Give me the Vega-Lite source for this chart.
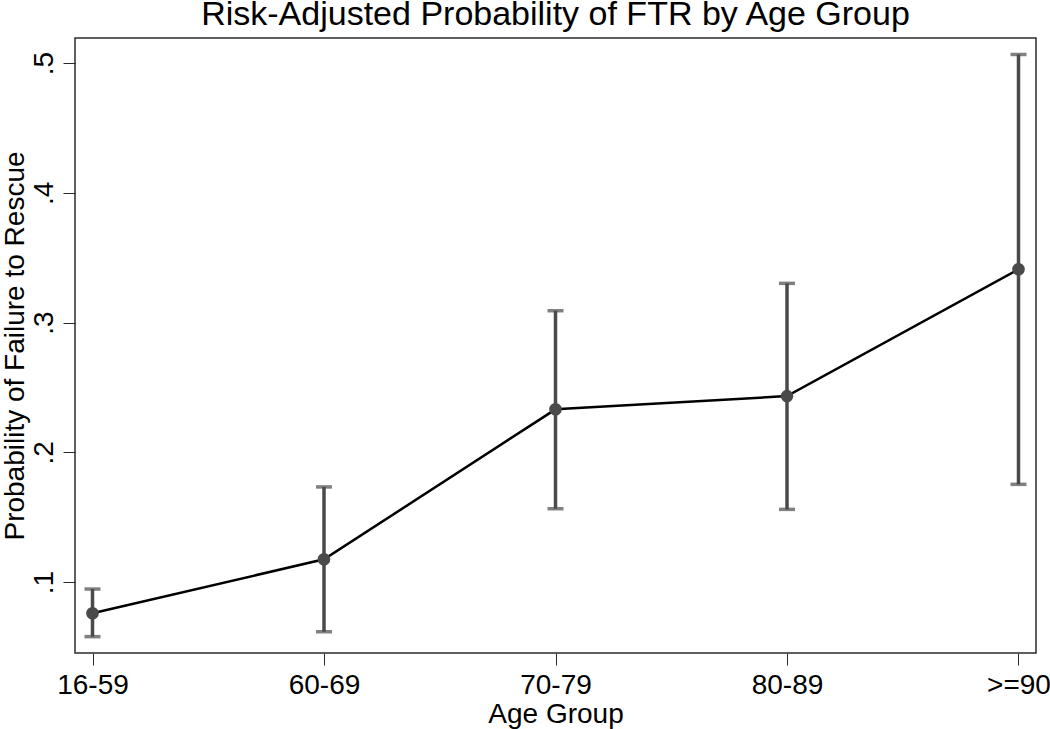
{
  "$schema": "https://vega.github.io/schema/vega-lite/v6.json",
  "width": 961,
  "height": 615,
  "autosize": {"type": "none"},
  "padding": {"left": 75, "top": 38, "right": 14, "bottom": 76},
  "background": "white",
  "title": {
    "text": "Risk-Adjusted Probability of FTR by Age Group",
    "font": "Liberation Sans",
    "fontSize": 34,
    "fontWeight": "normal",
    "color": "black",
    "anchor": "middle",
    "frame": "group",
    "baseline": "alphabetic",
    "offset": 12,
    "dy": 33
  },
  "config": {
    "view": {"stroke": "#2b2b2b", "strokeWidth": 1.5},
    "axis": {
      "labelFont": "Liberation Sans",
      "titleFont": "Liberation Sans",
      "labelFontSize": 28,
      "titleFontSize": 28,
      "labelColor": "black",
      "titleColor": "black",
      "titleFontWeight": "normal",
      "tickColor": "#2b2b2b",
      "tickSize": 12,
      "tickWidth": 1,
      "domain": false,
      "grid": false
    }
  },
  "data": {
    "values": [
      {"age": "16-59", "p": 0.0759, "lo": 0.0579, "hi": 0.0946},
      {"age": "60-69", "p": 0.1175, "lo": 0.0617, "hi": 0.1733},
      {"age": "70-79", "p": 0.2331, "lo": 0.1565, "hi": 0.3091},
      {"age": "80-89", "p": 0.2433, "lo": 0.156, "hi": 0.3302},
      {"age": ">=90", "p": 0.341, "lo": 0.1753, "hi": 0.5066}
    ]
  },
  "encoding": {
    "x": {
      "field": "age",
      "type": "ordinal",
      "sort": null,
      "scale": {"type": "point", "padding": 0.0756},
      "axis": {
        "title": "Age Group",
        "labelAngle": 0,
        "labelPadding": 6,
        "titleY": 69,
        "titleBaseline": "alphabetic",
        "titlePadding": 0
      }
    }
  },
  "layer": [
    {
      "mark": {"type": "rule", "color": "#4a4a4a", "strokeWidth": 3.5},
      "encoding": {
        "y": {
          "field": "lo",
          "type": "quantitative",
          "scale": {"domain": [0.0453, 0.5193], "nice": false, "zero": false},
          "axis": {
            "title": "Probability of Failure to Rescue",
            "values": [0.1, 0.2, 0.3, 0.4, 0.5],
            "labelExpr": "substring(format(datum.value, '.1f'), 1)",
            "labelAngle": -90,
            "labelAlign": "center",
            "labelBaseline": "alphabetic",
            "labelPadding": 11,
            "titleAngle": -90,
            "titleX": -52,
            "titleY": 307.5,
            "titleAlign": "center",
            "titleBaseline": "alphabetic"
          }
        },
        "y2": {"field": "hi"}
      }
    },
    {
      "mark": {"type": "tick", "color": "#4a4a4a", "thickness": 3.5, "size": 16, "orient": "horizontal"},
      "encoding": {"y": {"field": "lo", "type": "quantitative"}}
    },
    {
      "mark": {"type": "tick", "color": "#4a4a4a", "thickness": 3.5, "size": 16, "orient": "horizontal"},
      "encoding": {"y": {"field": "hi", "type": "quantitative"}}
    },
    {
      "mark": {"type": "line", "color": "black", "strokeWidth": 2.5},
      "encoding": {"y": {"field": "p", "type": "quantitative"}}
    },
    {
      "mark": {"type": "circle", "color": "#4a4a4a", "opacity": 1, "size": 160},
      "encoding": {"y": {"field": "p", "type": "quantitative"}}
    }
  ]
}
